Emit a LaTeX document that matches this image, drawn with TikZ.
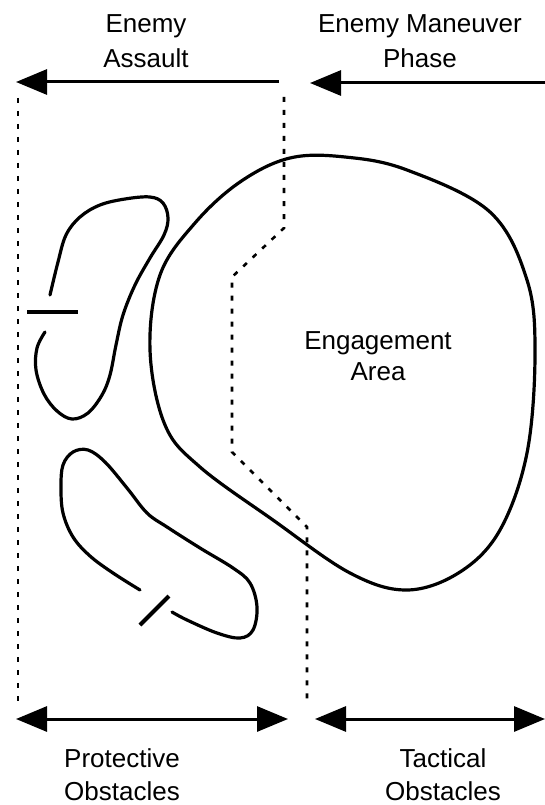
\documentclass[tikz,border=0pt]{standalone}
\usepackage{fontspec}
\setmainfont{Liberation Sans}
\usetikzlibrary{arrows.meta}
\begin{document}
\begin{tikzpicture}[x=1pt,y=-1pt,
  lbl/.style={align=center,anchor=base,inner sep=0pt,font=\fontsize{26}{35}\selectfont},
  phase/.style={line width=3pt,-{Triangle[length=31pt,width=25pt]}},
  span/.style={line width=3pt,{Triangle[length=31pt,width=25pt]}-{Triangle[length=31pt,width=25pt]}},
  bound/.style={line width=2.6pt,dash pattern=on 5pt off 8pt},
  obst/.style={line width=3.2pt,line cap=round,line join=round},
  gap/.style={line width=3.5pt}]
\useasboundingbox (0,0) rectangle (545,805);
% labels (anchor = baseline of last line)
\node[lbl] (ea) at (146,68) {Enemy\\Assault};
\node[lbl] (emp) at (420,68) {Enemy Maneuver\\Phase};
\node[lbl,font=\fontsize{26}{31}\selectfont] (eng) at (378,380) {Engagement\\Area};
\node[lbl,font=\fontsize{26}{33}\selectfont] (po) at (122,800) {Protective\\Obstacles};
\node[lbl,font=\fontsize{26}{33}\selectfont] (to) at (443,800) {Tactical\\Obstacles};
% phase arrows
\coordinate (a1s) at (279,82);
\coordinate (a1e) at (16,82);
\coordinate (a2s) at (545,83);
\coordinate (a2e) at (310,83);
\draw[phase] (a1s) -- (a1e);
\draw[phase] (a2s) -- (a2e);
% span arrows
\coordinate (b1s) at (16,719);
\coordinate (b1e) at (288,719);
\coordinate (b2s) at (315,719);
\coordinate (b2e) at (545,719);
\draw[span] (b1s) -- (b1e);
\draw[span] (b2s) -- (b2e);
% boundaries
\draw[bound] (18,98) -- (18,702);
\draw[bound] (284,97) -- (284,228) -- (232,277) -- (232,452) -- (307,527) -- (307,700);
% engagement area
\draw[obst] plot[smooth cycle,tension=0.6] coordinates {
 (290,158) (345,157) (407,170) (490,212) (527,280) (535,353) (527,453)
 (500,530) (460,572) (407,590) (350,573) (273,520) (200,467)
 (165,425) (150,350) (160,275) (195,223) (240,182)};
% upper protective obstacle
\draw[obst] plot[smooth,tension=0.6] coordinates {
 (50,295) (58,262) (66,235) (80,217) (100,205) (125,199) (150,197)
 (163,203) (168,218) (164,235) (150,258) (135,285) (123,315)
 (116,345) (110,375) (102,395) (88,413) (72,419) (57,411) (44,394)
 (36,370) (37,348) (45,332)};
\draw[gap] (27,312) -- (78,312);
% lower protective obstacle
\draw[obst] plot[smooth,tension=0.6] coordinates {
 (140,590) (113,573) (90,556) (73,537) (63,513) (61,487) (63,465)
 (73,452) (88,450) (105,462) (127,488) (147,513) (167,527) (200,548)
 (233,568) (250,583) (257,607) (253,630) (240,638) (217,633)
 (187,620) (172,612)};
\draw[gap,line width=4pt] (140,625) -- (169,596);
\end{tikzpicture}
\end{document}
